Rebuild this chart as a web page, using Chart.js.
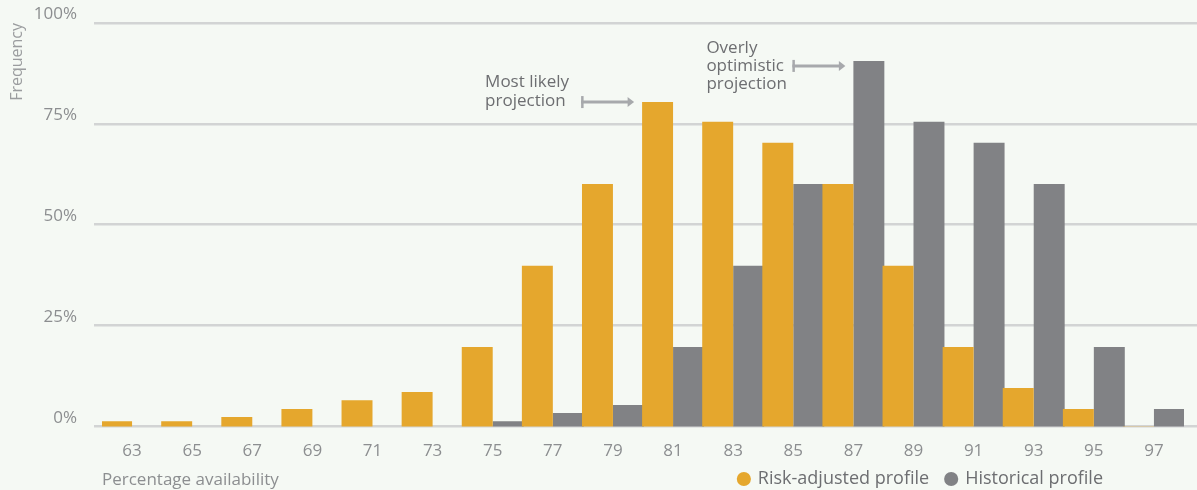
<!DOCTYPE html>
<html>
<head>
<meta charset="utf-8">
<title>Percentage availability</title>
<script src="https://cdn.jsdelivr.net/npm/chart.js@4.4.1/dist/chart.umd.min.js"></script>
<style>
  html, body { margin: 0; padding: 0; background: #f5f9f4; }
  #wrap { width: 1197px; height: 490px; position: relative; }
</style>
</head>
<body>
<div id="wrap"><canvas id="availabilityChart"></canvas></div>
<script>
// Percentage availability buckets (x axis)
const availability = ['63', '65', '67', '69', '71', '73', '75', '77', '79',
                      '81', '83', '85', '87', '89', '91', '93', '95', '97'];

// Frequency per bucket, in %
const riskAdjusted = [1.3, 1.3, 2.3, 4.3, 6.5, 8.5, 19.7, 39.8, 60.1,
                      80.4, 75.5, 70.3, 60.1, 39.8, 19.7, 9.5, 4.3, 0];
const historical = [null, null, null, null, null, null, 1.3, 3.3, 5.3,
                    19.7, 39.8, 60.1, 90.6, 75.5, 70.3, 60.1, 19.7, 4.3];

// Bars start a touch under the 0% line in the original
const BAR_BASE = -0.8;

// Colours
const orange = '#e5a72d';
const grey = '#818285';
const gridGrey = '#d2d4d4';
const tickGrey = '#8c8e90';
const textGrey = '#6d6e71';
const arrowGrey = '#a7a9ac';

Chart.defaults.font.family = "'Open Sans', sans-serif";

// Callouts pointing at a bar: which dataset / bucket, and how the text sits
const notes = [
    { lines: ['Most likely', 'projection'], datasetIndex: 0, index: 9, dy: 0, textDx: -96, firstLineDy: -20, lineGap: 19 },
    { lines: ['Overly', 'optimistic', 'projection'], datasetIndex: 1, index: 12, dy: 5, textDx: -86, firstLineDy: -18, lineGap: 18 }
];

// Gridlines in the original run on to the right edge of the picture
const gridRunout = {
    id: 'gridRunout',
    beforeDatasetsDraw(chart) {
        const { ctx, chartArea, scales: { y } } = chart;
        ctx.save();
        ctx.strokeStyle = gridGrey;
        ctx.lineWidth = 2.5;
        y.ticks.forEach(t => {
            const py = Math.round(y.getPixelForValue(t.value) - 1.25) + 1.25;
            ctx.beginPath();
            ctx.moveTo(chartArea.right, py);
            ctx.lineTo(chart.width, py);
            ctx.stroke();
        });
        ctx.restore();
    }
};

// Legend gets laid out below the canvas (negative bottom padding),
// then moved up onto the same row as the x axis title
const legendPlacement = {
    id: 'legendPlacement',
    afterLayout(chart) {
        const lg = chart.legend;
        lg.left -= 64;
        lg.right -= 64;
        lg.top -= 37;
        lg.bottom -= 37;
    }
};

// "Most likely" / "Overly optimistic" callouts with arrows
const projectionNotes = {
    id: 'projectionNotes',
    afterDraw(chart) {
        const ctx = chart.ctx;
        notes.forEach(n => {
            const bar = chart.getDatasetMeta(n.datasetIndex).data[n.index];
            const tipX = bar.x - bar.width / 2 - 8;
            const startX = tipX - 53;
            const y = bar.y + n.dy;

            ctx.save();
            ctx.strokeStyle = arrowGrey;
            ctx.fillStyle = arrowGrey;
            ctx.lineWidth = 3;
            ctx.beginPath();
            ctx.moveTo(startX, y);
            ctx.lineTo(tipX - 6, y);
            ctx.stroke();

            ctx.lineWidth = 2.5;
            ctx.beginPath();
            ctx.moveTo(startX + 1.25, y - 6);
            ctx.lineTo(startX + 1.25, y + 6);
            ctx.stroke();

            ctx.beginPath();
            ctx.moveTo(tipX, y);
            ctx.lineTo(tipX - 6.5, y - 5);
            ctx.lineTo(tipX - 6.5, y + 5);
            ctx.closePath();
            ctx.fill();

            ctx.fillStyle = textGrey;
            ctx.font = "17px 'Open Sans', sans-serif";
            ctx.textAlign = 'left';
            ctx.textBaseline = 'middle';
            n.lines.forEach((line, i) => {
                ctx.fillText(line, startX + n.textDx, y + n.firstLineDy + i * n.lineGap);
            });
            ctx.restore();
        });
    }
};

const ctx = document.getElementById('availabilityChart').getContext('2d');

new Chart(ctx, {
    type: 'bar',
    data: {
        labels: availability,
        datasets: [
            {
                label: 'Risk-adjusted profile',
                data: riskAdjusted,
                backgroundColor: orange,
                base: BAR_BASE,
                borderWidth: 0,
                barPercentage: 1,
                categoryPercentage: 1.03
            },
            {
                label: 'Historical profile',
                data: historical,
                backgroundColor: grey,
                base: BAR_BASE,
                borderWidth: 0,
                barPercentage: 1,
                categoryPercentage: 1.03
            }
        ]
    },
    options: {
        responsive: true,
        maintainAspectRatio: false,
        animation: false,
        layout: {
            // bottom is negative: the legend's row is taken back by legendPlacement
            padding: { top: 23, right: 13, bottom: -45, left: 0 }
        },
        scales: {
            x: {
                offset: true,
                grid: { display: false, drawTicks: false },
                border: { display: false },
                ticks: {
                    color: tickGrey,
                    font: { size: 17 },
                    padding: 15,
                    autoSkip: false,
                    maxRotation: 0
                },
                title: {
                    display: true,
                    text: 'Percentage availability',
                    align: 'start',
                    color: tickGrey,
                    font: { size: 17 },
                    padding: { top: -7.2, bottom: 0 }
                }
            },
            y: {
                min: 0,
                max: 100,
                ticks: {
                    stepSize: 25,
                    color: tickGrey,
                    font: { size: 17 },
                    padding: 17,
                    labelOffset: -8.5,
                    callback: value => value + '%'
                },
                grid: {
                    color: gridGrey,
                    lineWidth: 2.5,
                    tickLength: 8
                },
                border: { display: false },
                title: {
                    display: true,
                    text: 'Frequency',
                    align: 'end',
                    color: '#9b9d9f',
                    font: { size: 16 },
                    padding: { top: 8, bottom: 0 }
                },
                afterFit(scale) {
                    scale.width = 102;
                    scale.paddingTop = 0;
                    scale.paddingBottom = 0;
                }
            }
        },
        plugins: {
            legend: {
                position: 'bottom',
                align: 'end',
                labels: {
                    usePointStyle: true,
                    pointStyle: 'circle',
                    boxWidth: 10,
                    boxHeight: 10,
                    padding: 17,
                    color: textGrey,
                    font: { size: 18 }
                }
            },
            tooltip: {
                callbacks: {
                    label: context => context.dataset.label + ': ' + context.parsed.y + '%'
                }
            }
        }
    },
    plugins: [gridRunout, legendPlacement, projectionNotes]
});
</script>
</body>
</html>
